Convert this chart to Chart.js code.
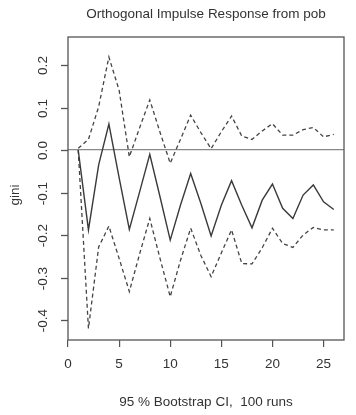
<!DOCTYPE html>
<html>
<head>
<meta charset="utf-8">
<script src="https://cdn.jsdelivr.net/npm/chart.js@4"></script>
<style>
  html, body { margin: 0; padding: 0; background: #fff; }
  canvas { display: block; }
</style>
</head>
<body>
<canvas id="myChart" width="356" height="415"></canvas>
<script>
// datos
const steps = [1, 2, 3, 4, 5, 6, 7, 8, 9, 10, 11, 12, 13, 14, 15, 16, 17, 18, 19, 20, 21, 22, 23, 24, 25, 26];
const irf = [0, -0.188, -0.035, 0.061, -0.065, -0.187, -0.099, -0.01, -0.11, -0.212, -0.13, -0.055, -0.126, -0.202, -0.13, -0.072, -0.13, -0.183, -0.118, -0.08, -0.137, -0.161, -0.106, -0.082, -0.122, -0.14];
const upper = [0.004, 0.025, 0.102, 0.219, 0.141, -0.016, 0.052, 0.118, 0.042, -0.031, 0.025, 0.082, 0.041, 0.003, 0.043, 0.08, 0.033, 0.025, 0.045, 0.062, 0.035, 0.035, 0.048, 0.053, 0.031, 0.037];
const lower = [0, -0.42, -0.228, -0.179, -0.255, -0.333, -0.245, -0.161, -0.255, -0.345, -0.26, -0.184, -0.248, -0.298, -0.242, -0.188, -0.267, -0.268, -0.23, -0.184, -0.22, -0.229, -0.2, -0.182, -0.188, -0.188];
const xTicks = [0, 5, 10, 15, 20, 25];
const yTicks = [-0.4, -0.3, -0.2, -0.1, 0.0, 0.1, 0.2];

const titulo = 'Orthogonal Impulse Response from pob';
const etiquetaX = '95 % Bootstrap CI,  100 runs';
const etiquetaY = 'gini';

const fuente = "'Liberation Sans', Arial, sans-serif";
const colorTexto = '#333';

function puntos(valores){
    return steps.map((s, i) => ({ x: s, y: valores[i] }));
}

// textos, marcas y marco al estilo de R
const marcoPlugin = {
    id: 'marco',
    afterDraw(chart){
        const ctx = chart.ctx;
        const area = chart.chartArea;
        const yScale = chart.scales.y;
        const centroX = (area.left + area.right) / 2;

        ctx.save();
        ctx.strokeStyle = '#555';
        ctx.lineWidth = 1.3;
        ctx.strokeRect(area.left, area.top, area.right - area.left, area.bottom - area.top);

        ctx.fillStyle = colorTexto;
        ctx.font = '13.5px ' + fuente;
        ctx.textAlign = 'center';
        ctx.textBaseline = 'middle';
        ctx.fillText(titulo, centroX, 14);
        ctx.fillText(etiquetaX, centroX, 402);

        yTicks.forEach(v => {
            const py = Math.round(yScale.getPixelForValue(v)) + 0.5;
            ctx.beginPath();
            ctx.moveTo(area.left - 7, py);
            ctx.lineTo(area.left, py);
            ctx.stroke();
            ctx.save();
            ctx.translate(43, py);
            ctx.rotate(-Math.PI / 2);
            ctx.fillText(v.toFixed(1), 0, 0);
            ctx.restore();
        });

        ctx.save();
        ctx.translate(15, 195);
        ctx.rotate(-Math.PI / 2);
        ctx.fillText(etiquetaY, 0, 0);
        ctx.restore();
        ctx.restore();
    }
};

const ctx = document.getElementById('myChart').getContext('2d');
new Chart(ctx, {
    type: 'line',
    data: {
        datasets: [
            { data: puntos(irf), borderColor: '#3a3a3a', borderWidth: 1.4, pointRadius: 0, tension: 0 },
            { data: puntos(upper), borderColor: '#444', borderWidth: 1.3, borderDash: [4, 3], pointRadius: 0, tension: 0 },
            { data: puntos(lower), borderColor: '#444', borderWidth: 1.3, borderDash: [4, 3], pointRadius: 0, tension: 0 }
        ]
    },
    options: {
        responsive: false,
        animation: false,
        layout: { padding: { left: 0, right: 12, top: 37, bottom: 0 } },
        plugins: { legend: { display: false }, tooltip: { enabled: false } },
        scales: {
            x: {
                type: 'linear',
                min: 0,
                max: 27,
                afterBuildTicks: scale => { scale.ticks = xTicks.map(v => ({ value: v })); },
                afterFit: scale => { scale.height = 75; },
                border: { display: false },
                grid: { drawOnChartArea: false, tickLength: 7, tickColor: '#555', lineWidth: 1.2 },
                ticks: { color: colorTexto, font: { family: fuente, size: 13.5 }, padding: 9, maxRotation: 0 }
            },
            y: {
                type: 'linear',
                min: -0.447,
                max: 0.266,
                afterBuildTicks: scale => { scale.ticks = yTicks.map(v => ({ value: v })); },
                afterFit: scale => { scale.width = 68; },
                border: { display: false },
                grid: {
                    color: c => (c.tick && c.tick.value === 0) ? '#888' : 'rgba(0,0,0,0)',
                    lineWidth: 1.2,
                    drawTicks: false
                },
                ticks: { display: false }
            }
        }
    },
    plugins: [marcoPlugin]
});
</script>
</body>
</html>
